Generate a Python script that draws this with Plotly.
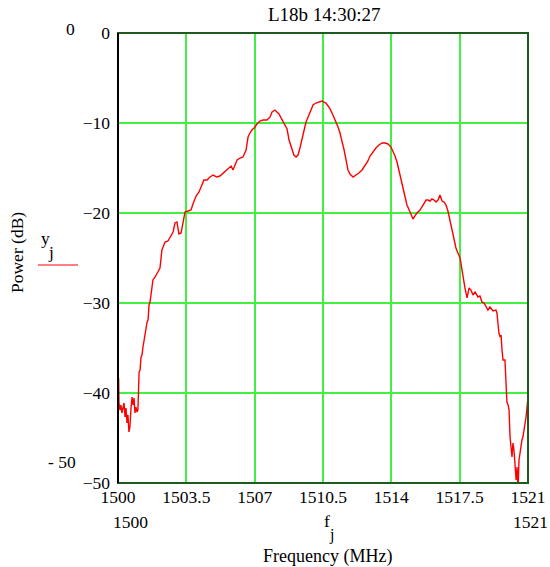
import plotly.graph_objects as go

# Spectrum trace: frequency (MHz) and measured power (dB)
freq_mhz = [
    1500.03, 1500.05, 1500.10, 1500.15, 1500.20, 1500.26, 1500.31, 1500.36, 1500.41, 1500.46,
    1500.51, 1500.56, 1500.61, 1500.67, 1500.72, 1500.77, 1500.82, 1500.87, 1500.92, 1500.97,
    1501.02, 1501.08, 1501.13, 1501.18, 1501.23, 1501.28, 1501.33, 1501.38, 1501.43, 1501.49,
    1501.54, 1501.59, 1501.64, 1501.74, 1501.79, 1501.90, 1502.05, 1502.15, 1502.25, 1502.41,
    1502.56, 1502.66, 1502.82, 1502.92, 1503.02, 1503.12, 1503.23, 1503.33, 1503.43, 1503.59,
    1503.74, 1503.84, 1504.00, 1504.15, 1504.30, 1504.40, 1504.56, 1504.71, 1504.87, 1505.07,
    1505.22, 1505.38, 1505.53, 1505.69, 1505.79, 1505.89, 1505.99, 1506.10, 1506.25, 1506.40,
    1506.56, 1506.66, 1506.76, 1506.86, 1507.02, 1507.12, 1507.27, 1507.43, 1507.63, 1507.79,
    1507.89, 1508.04, 1508.14, 1508.25, 1508.35, 1508.45, 1508.55, 1508.66, 1508.76, 1508.91,
    1509.01, 1509.12, 1509.22, 1509.32, 1509.42, 1509.53, 1509.63, 1509.78, 1509.89, 1509.99,
    1510.14, 1510.30, 1510.45, 1510.55, 1510.65, 1510.76, 1510.86, 1511.01, 1511.17, 1511.27,
    1511.37, 1511.47, 1511.58, 1511.68, 1511.78, 1511.88, 1512.04, 1512.19, 1512.34, 1512.50,
    1512.65, 1512.80, 1512.91, 1513.06, 1513.21, 1513.37, 1513.52, 1513.68, 1513.83, 1513.98,
    1514.09, 1514.19, 1514.29, 1514.39, 1514.50, 1514.65, 1514.80, 1514.96, 1515.11, 1515.21,
    1515.31, 1515.47, 1515.62, 1515.78, 1515.88, 1515.98, 1516.08, 1516.19, 1516.29, 1516.39,
    1516.49, 1516.60, 1516.70, 1516.80, 1516.90, 1517.00, 1517.11, 1517.21, 1517.31, 1517.41,
    1517.52, 1517.62, 1517.72, 1517.77, 1517.88, 1517.98, 1518.08, 1518.18, 1518.29, 1518.44,
    1518.54, 1518.64, 1518.75, 1518.85, 1518.95, 1519.05, 1519.21, 1519.36, 1519.41, 1519.46,
    1519.51, 1519.57, 1519.62, 1519.67, 1519.72, 1519.82, 1519.87, 1519.92, 1519.98, 1520.03,
    1520.08, 1520.13, 1520.18, 1520.23, 1520.28, 1520.33, 1520.39, 1520.44, 1520.49, 1520.54,
    1520.59, 1520.64, 1520.69, 1520.74, 1520.80, 1520.85, 1520.90, 1520.95, 1521.00,
]
power_db = [
    -38.33, -41.11, -41.89, -41.33, -42.22, -41.56, -41.11, -42.67, -41.67, -43.33,
    -42.44, -44.33, -43.78, -41.56, -40.44, -41.33, -40.56, -42.22, -41.56, -42.11,
    -41.89, -37.67, -37.44, -36.00, -35.78, -34.89, -34.11, -33.22, -33.00, -32.11,
    -31.89, -30.22, -29.89, -28.56, -27.44, -27.11, -26.56, -26.11, -24.11, -23.22,
    -23.11, -22.78, -22.11, -21.11, -21.00, -22.33, -22.22, -21.11, -19.89, -19.78,
    -19.67, -19.00, -18.11, -17.67, -16.89, -16.33, -16.33, -16.00, -15.78, -16.00,
    -15.89, -15.56, -15.22, -14.89, -14.78, -15.22, -14.67, -14.11, -13.89, -13.78,
    -13.00, -11.56, -11.11, -10.78, -10.44, -10.11, -9.78, -9.67, -9.67, -9.33,
    -8.78, -8.56, -8.78, -9.00, -9.44, -9.89, -10.33, -10.67, -11.89, -13.00,
    -13.56, -13.78, -13.56, -12.78, -11.89, -10.78, -9.89, -9.11, -8.44, -8.00,
    -7.78, -7.67, -7.56, -7.67, -7.78, -8.11, -8.44, -9.11, -9.89, -10.44,
    -11.11, -11.89, -13.00, -14.11, -15.22, -15.67, -16.00, -15.78, -15.56, -15.22,
    -14.78, -14.22, -13.67, -13.22, -12.78, -12.44, -12.22, -12.22, -12.33, -12.67,
    -13.11, -13.67, -14.33, -15.22, -16.33, -17.78, -19.11, -19.89, -20.67, -20.33,
    -20.00, -19.67, -19.11, -18.56, -18.56, -18.67, -18.44, -18.56, -18.78, -18.56,
    -18.00, -18.67, -18.78, -19.11, -19.78, -20.78, -22.22, -23.22, -23.89, -24.44,
    -25.00, -26.33, -27.78, -28.33, -29.44, -28.33, -28.56, -29.11, -28.78, -29.33,
    -29.22, -29.89, -30.00, -30.44, -30.78, -30.44, -30.89, -30.78, -31.11, -32.22,
    -33.33, -33.78, -33.56, -35.22, -36.33, -36.33, -38.56, -41.00, -41.33, -41.89,
    -44.89, -46.00, -47.11, -45.56, -46.33, -47.78, -49.67, -48.22, -50.78, -47.44,
    -46.67, -45.56, -45.22, -44.89, -44.11, -43.78, -42.67, -41.56, -40.44,
]

x_ticks = [1500, 1503.5, 1507, 1510.5, 1514, 1517.5, 1521]
x_tick_text = ["1500", "1503.5", "1507", "1510.5", "1514", "1517.5", "1521"]
y_ticks = [0, -10, -20, -30, -40, -50]
y_tick_text = ["0", "\u221210", "\u221220", "\u221230", "\u221240", "\u221250"]

title_text = "L18b 14:30:27"
x_title = "Frequency (MHz)"
y_title = "Power (dB)"

W, H = 550, 567
L, R, T, B = 118, 528, 33, 483
FONT = "Liberation Serif"
TICK = 17.5
GRID = "#42f042"
FRAME = "#1f5a1f"


def px(x):
    return (x - L) / (R - L)


def py(y):
    return (B - y) / (B - T)


fig = go.Figure()
fig.add_trace(go.Scatter(
    x=freq_mhz, y=power_db, mode="lines",
    line=dict(color="#ff0000", width=1.4),
    showlegend=False, hoverinfo="skip",
))

fig.update_layout(
    width=W, height=H,
    margin=dict(l=L, r=W - R, t=T, b=H - B, pad=0, autoexpand=False),
    paper_bgcolor="white", plot_bgcolor="white",
    font=dict(family=FONT, size=TICK, color="black"),
    xaxis=dict(
        range=[1500, 1521], tickvals=x_ticks, ticktext=x_tick_text,
        showgrid=True, gridcolor=GRID, gridwidth=1.5, zeroline=False,
        showline=False, ticks="", automargin=False, ticklabelstandoff=1,
        tickfont=dict(family=FONT, size=TICK),
    ),
    yaxis=dict(
        range=[-50, 0], tickvals=y_ticks, ticktext=y_tick_text,
        showgrid=True, gridcolor=GRID, gridwidth=1.5, zeroline=False,
        showline=False, ticks="", ticklabelstandoff=7, automargin=False,
        tickfont=dict(family=FONT, size=TICK),
    ),
)

# Plot frame: dark green box with a black left edge
fig.add_shape(type="rect", xref="paper", yref="paper", x0=0, x1=1, y0=0, y1=1,
              line=dict(color=FRAME, width=2), layer="above")
fig.add_shape(type="line", xref="paper", yref="paper", x0=0, x1=0, y0=0, y1=1,
              line=dict(color="black", width=2), layer="above")

# Legend swatch for y_j
fig.add_shape(type="line", xref="paper", yref="paper",
              x0=px(38), x1=px(78), y0=py(265), y1=py(265),
              line=dict(color="#ff0000", width=1))


def note(text, x, y, size=TICK, angle=0):
    fig.add_annotation(text=text, xref="paper", yref="paper", x=px(x), y=py(y),
                       xanchor="center", yanchor="middle", showarrow=False,
                       textangle=angle, font=dict(family=FONT, size=size, color="black"))


note(title_text, 324, 14, size=19)
note("0", 70, 29)
note("- 50", 62, 462)
note("y", 45, 238)
note("j", 51, 252)
note(y_title, 17, 253, size=17.5, angle=-90)
note("1500", 130, 522)
note("1521", 530, 522)
note("f", 327, 521)
note("j", 331, 535, size=16)
note(x_title, 327, 556, size=18)

fig.write_html("out.html")
